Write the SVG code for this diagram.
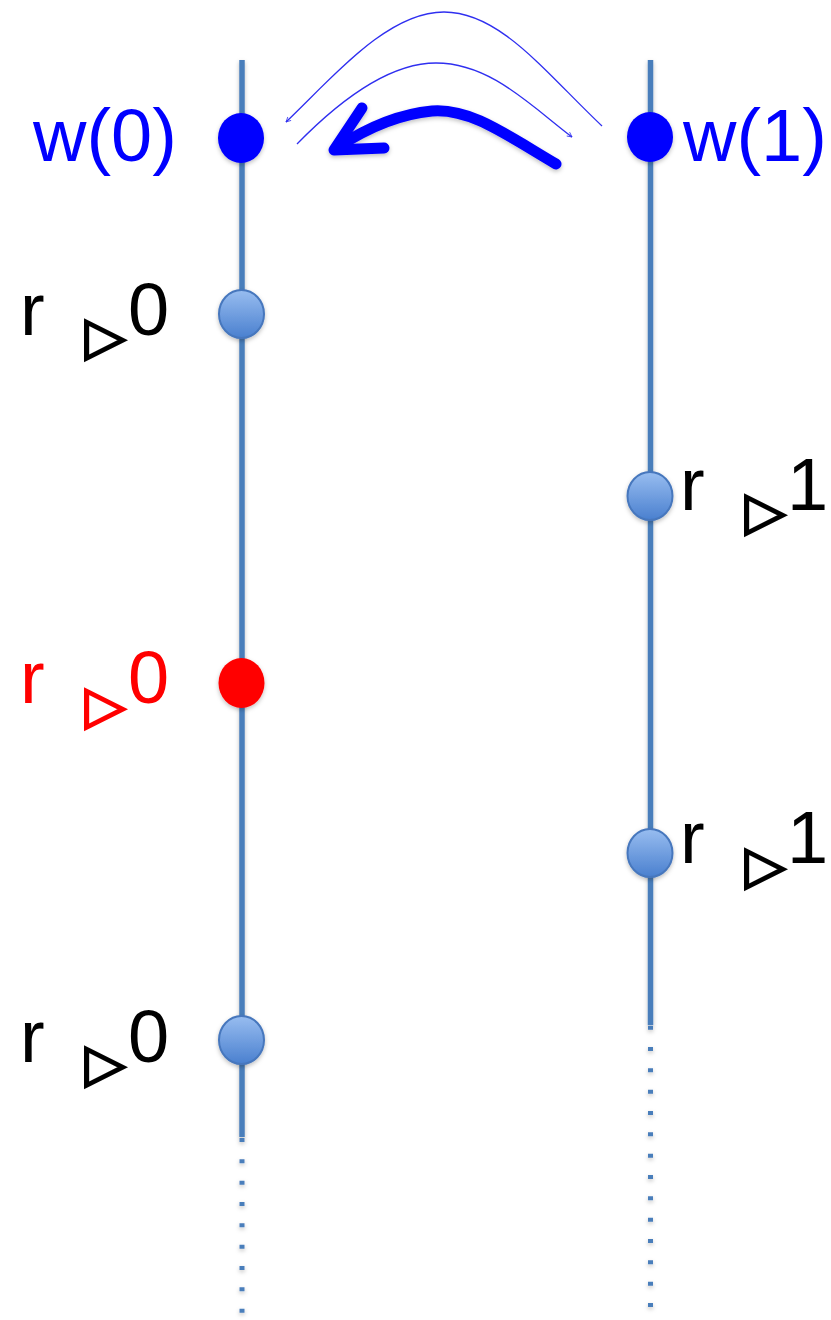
<svg xmlns="http://www.w3.org/2000/svg" width="831" height="1320" viewBox="0 0 831 1320">
<style>
.tl{stroke:#4a7ebb;stroke-width:5.5;fill:none}
.dot{stroke:#4a7ebb;stroke-width:5;fill:none;stroke-dasharray:4 17.33}
.lb{font-family:"Liberation Sans",Arial,sans-serif;font-size:74px}
.tri{font-family:"DejaVu Sans",sans-serif;font-size:53px;stroke-width:2.2;stroke-linejoin:miter}
.thin{stroke:#2f2ff0;stroke-width:1.3;fill:none}
.rn{fill:url(#g);stroke:#4677bd;stroke-width:2}
</style>
<defs>
<linearGradient id="g" x1="0" y1="0" x2="0" y2="1">
<stop offset="0" stop-color="#98bdf0"/>
<stop offset="1" stop-color="#4a80cf"/>
</linearGradient>
<filter id="sh" x="-30%" y="-30%" width="160%" height="160%">
<feDropShadow dx="0" dy="2" stdDeviation="2" flood-color="#000" flood-opacity="0.25"/>
</filter>
<marker id="ah" viewBox="0 0 10 10" refX="9" refY="5" markerWidth="6" markerHeight="6" orient="auto" markerUnits="userSpaceOnUse">
<path d="M1,1 L9,5 L1,9" fill="none" stroke="#2f2ff0" stroke-width="1.3"/>
</marker>
</defs>
<g id="timelines" filter="url(#sh)">
<line class="tl" x1="242" y1="60" x2="242" y2="1137"/>
<line class="dot" x1="242" y1="1138" x2="242" y2="1316"/>
<line class="tl" x1="650.5" y1="60" x2="650.5" y2="1025"/>
<line class="dot" x1="650.5" y1="1025.7" x2="650.5" y2="1310"/>
</g>
<g id="connectors">
<path class="thin" d="M602,126 C545,72 500,12 444,12 C388,12 335,75 286,122" marker-end="url(#ah)"/>
<path class="thin" d="M297,144 C340,100 390,63 436,63 C490,63 530,105 572,137" marker-end="url(#ah)"/>
<g filter="url(#sh)" stroke="#0000ff" stroke-width="11" fill="none" stroke-linecap="round" stroke-linejoin="round">
<path d="M556,164 C505,134 470,108 432,111 C400,114 370,126 338,147"/>
<polyline points="362,108 334,150 384,148"/>
</g>
</g>
<g id="w0">
<ellipse cx="241" cy="138" rx="23" ry="25" fill="#0000ff" filter="url(#sh)"/>
<text class="lb" x="33" y="161" fill="#0000ff">w(0)</text>
</g>
<g id="w1">
<ellipse cx="650" cy="137" rx="23" ry="25" fill="#0000ff" filter="url(#sh)"/>
<text class="lb" x="683" y="161" fill="#0000ff">w(1)</text>
</g>
<g id="r0a">
<ellipse class="rn" cx="241.5" cy="314" rx="22.5" ry="24" filter="url(#sh)"/>
<text class="lb" x="20" y="335" fill="#000">r</text>
<text class="tri" x="85" y="354" fill="#000" stroke="#000">▷</text>
<text class="lb" x="128" y="335" fill="#000">0</text>
</g>
<g id="r1a">
<ellipse class="rn" cx="650" cy="496" rx="22.5" ry="24" filter="url(#sh)"/>
<text class="lb" x="680" y="510" fill="#000">r</text>
<text class="tri" x="745" y="529" fill="#000" stroke="#000">▷</text>
<text class="lb" x="787" y="510" fill="#000">1</text>
</g>
<g id="r0red">
<ellipse cx="241.5" cy="683" rx="23" ry="25" fill="#ff0000" filter="url(#sh)"/>
<text class="lb" x="20" y="703" fill="#ff0000">r</text>
<text class="tri" x="85" y="723" fill="#ff0000" stroke="#ff0000">▷</text>
<text class="lb" x="128" y="703" fill="#ff0000">0</text>
</g>
<g id="r1b">
<ellipse class="rn" cx="650" cy="853" rx="22.5" ry="24" filter="url(#sh)"/>
<text class="lb" x="680" y="863" fill="#000">r</text>
<text class="tri" x="745" y="883" fill="#000" stroke="#000">▷</text>
<text class="lb" x="787" y="863" fill="#000">1</text>
</g>
<g id="r0b">
<ellipse class="rn" cx="241.5" cy="1040" rx="22.5" ry="24" filter="url(#sh)"/>
<text class="lb" x="20" y="1062" fill="#000">r</text>
<text class="tri" x="85" y="1081" fill="#000" stroke="#000">▷</text>
<text class="lb" x="128" y="1062" fill="#000">0</text>
</g>
</svg>
